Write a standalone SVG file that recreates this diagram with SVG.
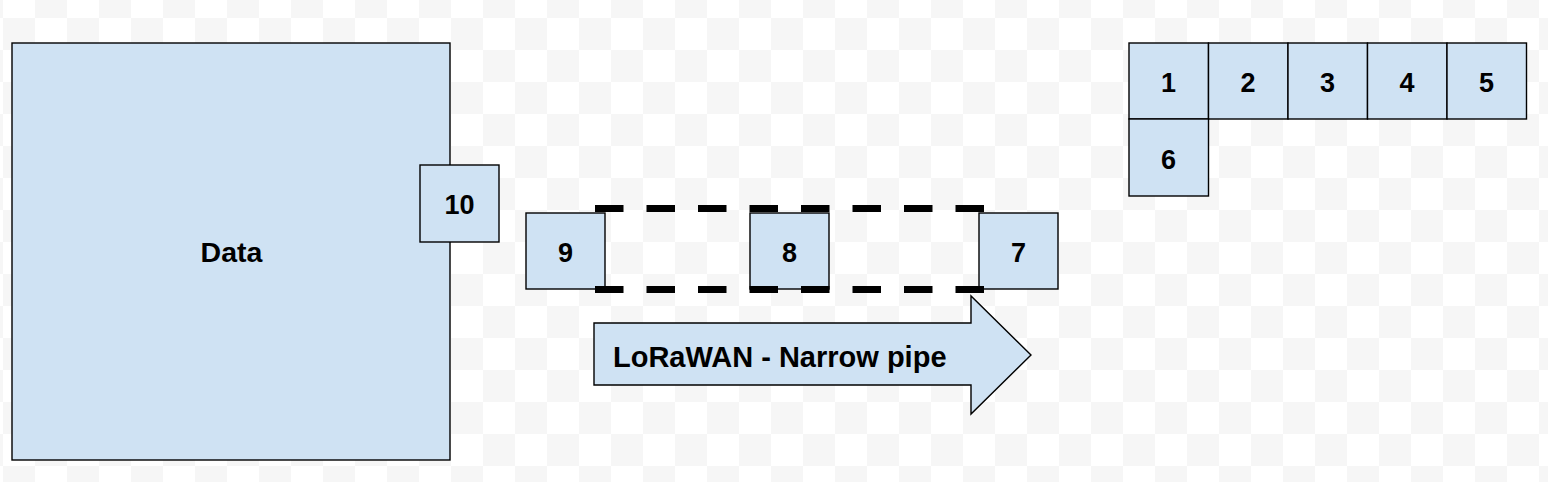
<svg xmlns="http://www.w3.org/2000/svg" width="1548" height="482" viewBox="0 0 1548 482">
<defs>
<pattern id="checker" patternUnits="userSpaceOnUse" x="3" y="18" width="64" height="64">
<rect width="64" height="64" fill="#ffffff"/>
<rect x="0" y="0" width="32" height="32" fill="#f6f6f6"/>
<rect x="32" y="32" width="32" height="32" fill="#f6f6f6"/>
</pattern>
</defs>
<style>
.box{fill:#cfe2f3;stroke:#000;stroke-width:1.4}
.lbl{font-family:"Liberation Sans",Arial,sans-serif;font-weight:bold;font-size:27px;fill:#000;text-anchor:middle}
.dash{fill:none;stroke:#000;stroke-width:7;stroke-dasharray:28.5 23}
</style>
<rect width="1548" height="482" fill="url(#checker)"/>
<g id="data"><rect class="box" x="12" y="43" width="438" height="417"/><text class="lbl" x="231.5" y="262" style="font-size:28.5px">Data</text></g>
<g id="n10"><rect class="box" x="420" y="165" width="79" height="77"/><text class="lbl" x="459.5" y="213.5">10</text></g>
<g id="n9"><rect class="box" x="526" y="213" width="79" height="76"/><text class="lbl" x="565.5" y="261.5">9</text></g>
<g id="n8"><rect class="box" x="750" y="213" width="79" height="76"/><text class="lbl" x="789.5" y="261.5">8</text></g>
<g id="n7"><rect class="box" x="979" y="213" width="79" height="76"/><text class="lbl" x="1018.5" y="261.5">7</text></g>
<g id="pipe"><path class="dash" d="M595 208.5H984M595 289.5H984"/></g>
<g id="arrow"><polygon class="box" points="594,323 971,323 971,296 1031,355 971,414 971,385 594,385"/><text class="lbl" x="613" y="367" style="text-anchor:start;font-size:29px">LoRaWAN - Narrow pipe</text></g>
<g id="n1"><rect class="box" x="1129" y="43" width="79.5" height="76"/><text class="lbl" x="1168.5" y="91.5">1</text></g>
<g id="n2"><rect class="box" x="1208.5" y="43" width="79.5" height="76"/><text class="lbl" x="1248" y="91.5">2</text></g>
<g id="n3"><rect class="box" x="1288" y="43" width="79.5" height="76"/><text class="lbl" x="1327.5" y="91.5">3</text></g>
<g id="n4"><rect class="box" x="1367.5" y="43" width="79.5" height="76"/><text class="lbl" x="1407" y="91.5">4</text></g>
<g id="n5"><rect class="box" x="1447" y="43" width="79.5" height="76"/><text class="lbl" x="1486.5" y="91.5">5</text></g>
<g id="n6"><rect class="box" x="1129" y="119" width="79.5" height="77"/><text class="lbl" x="1168.5" y="168.5">6</text></g>
<g id="connectors"></g>
</svg>
